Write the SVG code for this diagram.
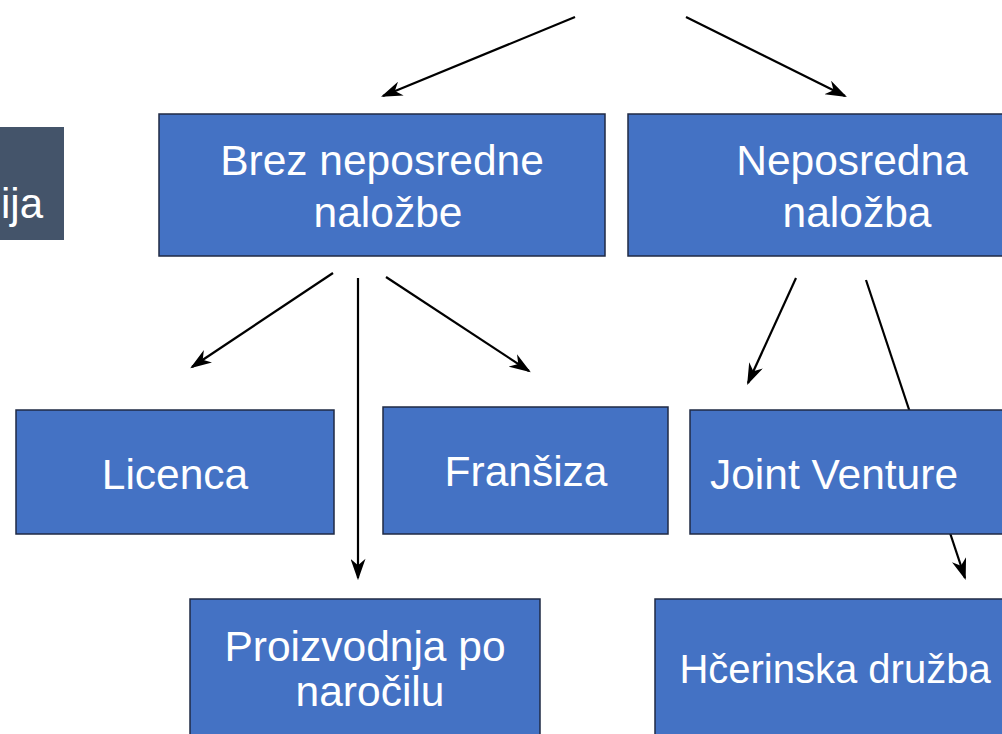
<svg xmlns="http://www.w3.org/2000/svg" width="1002" height="734" viewBox="0 0 1002 734">
<style>
.box{fill:#4472C4;stroke:#1F2A44;stroke-width:1.5}
.t{font-family:"Liberation Sans",Arial,sans-serif;font-size:42.5px;fill:#FFFFFF;text-anchor:middle}
.c{stroke:#000;stroke-width:2.2;fill:none}
</style>
<defs>
<marker id="ah" viewBox="0 0 20 14" refX="18" refY="7" markerWidth="22" markerHeight="15" markerUnits="userSpaceOnUse" orient="auto">
<path d="M0,0 L20,7 L0,14 L6,7 Z" fill="#000"/>
</marker>
</defs>
<rect width="1002" height="734" fill="#FFFFFF"/>
<g id="side">
<rect x="-10" y="127" width="74" height="113" fill="#44546A"/>
<text x="43" y="218" font-family="Liberation Sans,Arial,sans-serif" font-size="42" fill="#FFFFFF" text-anchor="end">ija</text>
</g>
<g id="connectors">
<line class="c" x1="575" y1="17" x2="383" y2="96" marker-end="url(#ah)"/>
<line class="c" x1="686" y1="17" x2="845" y2="96" marker-end="url(#ah)"/>
<line class="c" x1="333" y1="273" x2="192" y2="367" marker-end="url(#ah)"/>
<line class="c" x1="358" y1="278" x2="358" y2="578" marker-end="url(#ah)"/>
<line class="c" x1="386" y1="277" x2="529" y2="371" marker-end="url(#ah)"/>
<line class="c" x1="796" y1="278" x2="748" y2="383" marker-end="url(#ah)"/>
<line class="c" x1="866" y1="280" x2="965" y2="578" marker-end="url(#ah)"/>
</g>
<g id="brez">
<rect class="box" x="159" y="114" width="446" height="142"/>
<text class="t" x="382" y="175">Brez neposredne</text>
<text class="t" x="388" y="227">naložbe</text>
</g>
<g id="neposredna">
<rect class="box" x="628" y="114" width="446" height="142"/>
<text class="t" x="852" y="175">Neposredna</text>
<text class="t" x="857" y="227">naložba</text>
</g>
<g id="licenca">
<rect class="box" x="16" y="410" width="318" height="124"/>
<text class="t" x="175" y="489">Licenca</text>
</g>
<g id="fransiza">
<rect class="box" x="383" y="407" width="285" height="127"/>
<text class="t" x="526" y="486">Franšiza</text>
</g>
<g id="joint">
<rect class="box" x="690" y="410" width="330" height="124"/>
<text class="t" x="834" y="489">Joint Venture</text>
</g>
<g id="proizvodnja">
<rect class="box" x="190" y="599" width="350" height="150"/>
<text class="t" x="365" y="661">Proizvodnja po</text>
<text class="t" x="370" y="706">naročilu</text>
</g>
<g id="hcerinska">
<rect class="box" x="655" y="599" width="370" height="150"/>
<text class="t" x="835" y="683" style="font-size:40px">Hčerinska družba</text>
</g>
</svg>
